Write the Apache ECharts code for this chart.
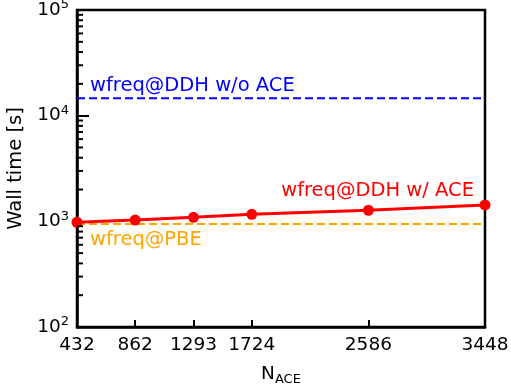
<!DOCTYPE html>
<html>
<head>
<meta charset="utf-8">
<script src="https://cdn.jsdelivr.net/npm/echarts@6/dist/echarts.min.js"></script>
<style>
  html, body { margin: 0; padding: 0; background: #fff; }
  #chart { width: 511px; height: 388px; }
</style>
</head>
<body>
<div id="chart"></div>
<script>
// Number of ACE vectors and measured wall times
const nAce = [432, 862, 1293, 1724, 2586, 3448];
const wallAce = [980, 1029, 1092, 1166, 1273, 1429];
// Reference timings (constant across N_ACE)
const wallNoAce = 14600;
const wallPbe = 945;
// Axis ticks
const xTicks = [432, 862, 1293, 1724, 2586, 3448];
const yMin = 100, yMax = 100000;
const yMinor = [];
for (let d = 100; d < yMax; d *= 10) {
  for (let k = 2; k <= 9; k++) yMinor.push(k * d);
}

const FONT = 'DejaVu Sans';
const chart = echarts.init(document.getElementById('chart'));

const supRich = {
  b: { fontFamily: FONT, fontSize: 18.5, color: '#000' },
  s: { fontFamily: FONT, fontSize: 13, color: '#000', verticalAlign: 'top', padding: [0, 0, 10, 0] }
};

chart.setOption({
  animation: false,
  grid: {
    left: 77, right: 26, top: 10, bottom: 61,
    outerBoundsMode: 'none', containLabel: false,
    show: true, borderColor: '#000', borderWidth: 2.5, backgroundColor: 'transparent'
  },
  xAxis: {
    type: 'value',
    min: nAce[0], max: nAce[nAce.length - 1],
    name: '{n|N}{s|ACE}',
    nameLocation: 'middle',
    nameGap: 36,
    nameTextStyle: {
      rich: {
        n: { fontFamily: FONT, fontSize: 18.5, color: '#000' },
        s: { fontFamily: FONT, fontSize: 13, color: '#000', padding: [10, 0, 0, 0] }
      }
    },
    splitLine: { show: false },
    axisLine: { lineStyle: { color: '#000', width: 2.5 } },
    axisTick: { inside: true, length: 7, customValues: xTicks, lineStyle: { color: '#000', width: 2 } },
    axisLabel: {
      customValues: xTicks, margin: 9,
      fontFamily: FONT, fontSize: 18.5, color: '#000',
      formatter: v => String(v)
    }
  },
  yAxis: {
    type: 'log', logBase: 10,
    min: yMin, max: yMax,
    name: 'Wall time [s]',
    nameLocation: 'middle',
    nameGap: 50,
    nameTextStyle: { fontFamily: FONT, fontSize: 19.5, color: '#000' },
    splitLine: { show: false },
    minorTick: { show: false },
    axisLine: { lineStyle: { color: '#000', width: 2.5 } },
    axisTick: { inside: true, length: 12, lineStyle: { color: '#000', width: 2 } },
    axisLabel: {
      margin: 8,
      formatter: v => '{b|10}{s|' + Math.round(Math.log10(v)) + '}',
      rich: supRich
    }
  },
  series: [
    {
      // log-spaced minor ticks on the left axis
      type: 'custom',
      silent: true,
      clip: false,
      data: yMinor.map(v => [nAce[0], v]),
      renderItem: (params, api) => {
        const p = api.coord([api.value(0), api.value(1)]);
        return {
          type: 'line',
          shape: { x1: p[0], y1: p[1], x2: p[0] + 6, y2: p[1] },
          style: { stroke: '#000', lineWidth: 2 }
        };
      },
      z: 5
    },
    {
      name: 'wfreq@DDH w/o ACE',
      type: 'line',
      symbol: 'none',
      data: [[nAce[0], wallNoAce], [nAce[nAce.length - 1], wallNoAce]],
      lineStyle: { color: '#0000ff', width: 2, type: [8, 4] },
      z: 3
    },
    {
      name: 'wfreq@PBE',
      type: 'line',
      symbol: 'none',
      data: [[nAce[0], wallPbe], [nAce[nAce.length - 1], wallPbe]],
      lineStyle: { color: '#ffa500', width: 2, type: [8, 4] },
      z: 3
    },
    {
      name: 'wfreq@DDH w/ ACE',
      type: 'line',
      symbol: 'circle',
      symbolSize: 11,
      data: nAce.map((x, i) => [x, wallAce[i]]),
      itemStyle: { color: '#ff0000' },
      lineStyle: { color: '#ff0000', width: 3 },
      z: 4
    }
  ]
});

// Text annotations anchored to data positions via the chart's own scales
const first = nAce[0], last = nAce[nAce.length - 1];
const pNoAce = chart.convertToPixel({ gridIndex: 0 }, [first, wallNoAce]);
const pPbe = chart.convertToPixel({ gridIndex: 0 }, [first, wallPbe]);
const pAce = chart.convertToPixel({ gridIndex: 0 }, [last, wallAce[wallAce.length - 1]]);
const txt = (x, y, text, color, align) => ({
  type: 'text', x: x, y: y, z: 10,
  style: { text: text, fill: color, font: '19.5px "DejaVu Sans"', align: align, verticalAlign: 'middle' }
});
chart.setOption({
  graphic: [
    txt(pNoAce[0] + 13, pNoAce[1] - 12, 'wfreq@DDH w/o ACE', '#0000ff', 'left'),
    txt(pPbe[0] + 13, pPbe[1] + 16, 'wfreq@PBE', '#ffa500', 'left'),
    txt(pAce[0] - 11, pAce[1] - 14, 'wfreq@DDH w/ ACE', '#ff0000', 'right')
  ]
});
</script>
</body>
</html>
